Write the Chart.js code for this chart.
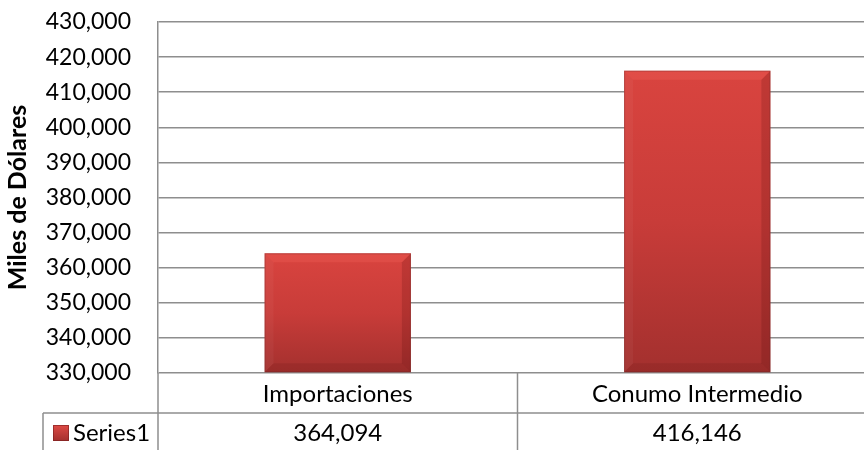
<!DOCTYPE html>
<html><head><meta charset="utf-8">
<script src="https://cdn.jsdelivr.net/npm/chart.js@4"></script>
<style>
html,body{margin:0;padding:0;overflow:hidden;background:#fff}
#wrap{position:relative;width:890px;height:460px}
</style></head><body>
<div id="wrap"><canvas id="c"></canvas></div>
<script>
const categories = ['Importaciones', 'Conumo Intermedio'];
const seriesName = 'Series1';
const seriesValues = [364094, 416146];
const axisTitle = 'Miles de Dólares';
const yMin = 330000;
const yMax = 430000;
const yStep = 10000;

const FONT = 'Lato';
const gridColor = '#8e8e8e';
const gridWidth = 1.5;
const fmt = v => Number(v).toLocaleString('en-US');

function barGradient(ctx, top, bottom) {
  const g = ctx.createLinearGradient(0, top, 0, bottom);
  g.addColorStop(0, '#d9443f');
  g.addColorStop(0.5, '#c83c39');
  g.addColorStop(1, '#a3302e');
  return g;
}

const bevelPlugin = {
  id: 'bevel',
  afterDatasetsDraw(chart) {
    const ctx = chart.ctx;
    const meta = chart.getDatasetMeta(0);
    ctx.save();
    meta.data.forEach(bar => {
      const p = bar.getProps(['x', 'y', 'base', 'width'], true);
      const L = p.x - p.width / 2, R = p.x + p.width / 2, T = p.y, B = p.base;
      const b = Math.min(9, (B - T) / 3);
      const poly = (pts, fill) => {
        ctx.beginPath();
        ctx.moveTo(pts[0][0], pts[0][1]);
        for (let i = 1; i < pts.length; i++) ctx.lineTo(pts[i][0], pts[i][1]);
        ctx.closePath();
        ctx.fillStyle = fill;
        ctx.fill();
      };
      poly([[L, T], [R, T], [R - b, T + b], [L + b, T + b]], 'rgba(255,110,100,0.22)');
      poly([[L, T], [L + b, T + b], [L + b, B - b], [L, B]], 'rgba(255,255,255,0.04)');
      poly([[R, T], [R, B], [R - b, B - b], [R - b, T + b]], 'rgba(60,0,0,0.16)');
      poly([[L, B], [L + b, B - b], [R - b, B - b], [R, B]], 'rgba(60,0,0,0.10)');
      ctx.strokeStyle = 'rgba(110,40,40,0.35)';
      ctx.lineWidth = 1;
      ctx.strokeRect(L + 0.5, T + 0.5, p.width - 1, B - T - 1);
    });
    ctx.restore();
  }
};

const tablePlugin = {
  id: 'dataTable',
  afterDraw(chart) {
    const ctx = chart.ctx;
    const a = chart.chartArea;
    const x = chart.scales.x;
    const rowH = 40;
    const y1 = a.bottom, y2 = a.bottom + rowH, y3 = a.bottom + 2 * rowH;
    const tableLeft = 43;
    const line = (x1, ya, x2, yb) => {
      ctx.beginPath(); ctx.moveTo(x1, ya); ctx.lineTo(x2, yb); ctx.stroke();
    };
    ctx.save();
    ctx.strokeStyle = gridColor;
    ctx.lineWidth = gridWidth;
    line(a.left, y1, a.left, y3);
    for (let i = 0; i < categories.length - 1; i++) {
      const bx = (x.getPixelForValue(i) + x.getPixelForValue(i + 1)) / 2;
      line(bx, y1, bx, y3);
    }
    line(a.right, y1, a.right, y3);
    line(tableLeft, y2, a.right, y2);
    line(tableLeft, y3, a.right, y3);
    line(tableLeft, y2, tableLeft, y3);

    const cy = y2 + rowH / 2;
    const kx = 53, ks = 16, ky = cy - ks / 2;
    const kg = ctx.createLinearGradient(0, ky, 0, ky + ks);
    kg.addColorStop(0, '#de4a45');
    kg.addColorStop(1, '#a3302e');
    ctx.fillStyle = kg;
    ctx.fillRect(kx, ky, ks, ks);
    ctx.strokeStyle = 'rgba(120,30,30,0.6)';
    ctx.lineWidth = 1;
    ctx.strokeRect(kx + 0.5, ky + 0.5, ks - 1, ks - 1);

    ctx.fillStyle = '#000';
    ctx.font = '24px ' + FONT;
    ctx.textBaseline = 'middle';
    ctx.textAlign = 'left';
    ctx.fillText(seriesName, kx + ks + 4, cy);
    ctx.textAlign = 'center';
    seriesValues.forEach((v, i) => {
      ctx.fillText(fmt(v), x.getPixelForValue(i), cy);
    });
    ctx.restore();
  }
};

new Chart(document.getElementById('c'), {
  type: 'bar',
  data: {
    labels: categories,
    datasets: [{
      label: seriesName,
      data: seriesValues,
      base: yMin,
      backgroundColor: (c) => {
        const chart = c.chart;
        if (!chart.chartArea || c.raw === undefined) return '#c83c39';
        const ys = chart.scales.y;
        return barGradient(chart.ctx, ys.getPixelForValue(c.raw), ys.getPixelForValue(yMin));
      },
      borderWidth: 0,
      categoryPercentage: 0.407,
      barPercentage: 1
    }]
  },
  options: {
    responsive: true,
    maintainAspectRatio: false,
    animation: false,
    devicePixelRatio: 1,
    layout: { padding: { left: 0, top: 22, right: 13, bottom: 7 } },
    plugins: { legend: { display: false }, tooltip: { enabled: false } },
    scales: {
      x: {
        type: 'category',
        offset: true,
        grid: { display: false },
        border: { display: false },
        ticks: { font: { family: FONT, size: 24 }, color: '#000', padding: -1, maxRotation: 0, autoSkip: false },
        afterFit: s => { s.height = 80; }
      },
      y: {
        min: yMin,
        max: yMax,
        ticks: { stepSize: yStep, callback: v => fmt(v), font: { family: FONT, size: 23 }, color: '#000', padding: 27 },
        grid: { color: gridColor, lineWidth: gridWidth, drawTicks: false },
        border: { color: gridColor, width: gridWidth },
        title: { display: true, text: axisTitle, font: { family: FONT, size: 25, weight: 'bold' }, color: '#000', padding: { top: 3, bottom: 0 } },
        afterFit: s => { s.width = 158; s.paddingTop = 0; s.paddingBottom = 0; }
      }
    }
  },
  plugins: [bevelPlugin, tablePlugin]
});
</script>
</body></html>
